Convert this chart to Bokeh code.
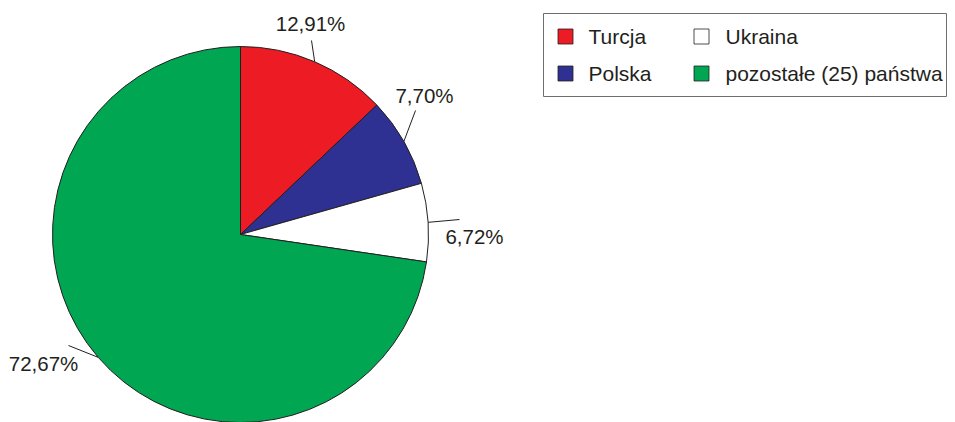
import numpy as np
from bokeh.plotting import figure
from bokeh.models import Range1d
from bokeh.embed import file_html
from bokeh.resources import INLINE
from bokeh.core.properties import value

# ---- data ----
categories = ["Turcja", "Polska", "Ukraina", "pozostałe (25) państwa"]
shares = [12.91, 7.70, 6.72, 72.67]
pct_labels = ["12,91%", "7,70%", "6,72%", "72,67%"]

# ---- styles / layout ----
colors = ["#ED1C24", "#2E3192", "#FFFFFF", "#00A651"]
ink = "#231F20"
FONT = "Liberation Sans"
W, H = 955, 422
CX, CY, R = 240, 422 - 234, 188
# label centres and leader ends (reference pixel coords)
label_ref = [(310, 23), (424, 95), (474, 236), (43, 363)]
leader_ref = [(311, 40), (415, 110), (459, 219), (68, 345)]
legend_order = [0, 2, 1, 3]


def to_data(x, y):
    return x, H - y


p = figure(width=W, height=H, x_range=Range1d(0, W), y_range=Range1d(0, H),
           output_backend="svg", toolbar_location=None, min_border=0,
           x_axis_type=None, y_axis_type=None)
p.grid.visible = False
p.outline_line_color = None
p.background_fill_color = "white"
p.border_fill_color = "white"

total = sum(shares)
cum = np.concatenate([[0], np.cumsum(shares)]) / total
starts = np.pi / 2 - 2 * np.pi * cum[:-1]
ends = np.pi / 2 - 2 * np.pi * cum[1:]
mids = (starts + ends) / 2

p.wedge(x=[CX] * 4, y=[CY] * 4, radius=R, start_angle=list(starts), end_angle=list(ends),
        direction="clock", fill_color=colors, line_color=ink, line_width=1)

# leaders and labels
for i, lab in enumerate(pct_labels):
    ix = CX + R * np.cos(mids[i])
    iy = CY + R * np.sin(mids[i])
    ox, oy = to_data(*leader_ref[i])
    p.line([ix, ox], [iy, oy], line_color=ink, line_width=1)
    tx, ty = to_data(*label_ref[i])
    p.text(x=[tx], y=[ty], text=[lab], text_font=value(FONT), text_font_size="20.5px",
           text_color=ink, text_align="center", text_baseline="middle")

# legend box
bx0, by0 = to_data(543, 96)
bx1, by1 = to_data(946, 13)
p.quad(left=[bx0], right=[bx1], bottom=[by0], top=[by1], fill_color="white",
       line_color="#6D6E71", line_width=1)

sq_pos = [(565, 36), (701, 36), (565, 73), (701, 73)]
txt_x = [588, 725, 588, 725]
for k, idx in enumerate(legend_order):
    sx, sy = to_data(*sq_pos[k])
    p.rect(x=[sx], y=[sy], width=15, height=15, fill_color=colors[idx],
           line_color=ink, line_width=0.8)
    tx, ty = to_data(txt_x[k], sq_pos[k][1])
    p.text(x=[tx], y=[ty], text=[categories[idx]], text_font=value(FONT),
           text_font_size="21px", text_color=ink, text_align="left",
           text_baseline="middle")

open("out.html", "w").write(file_html(p, INLINE))
